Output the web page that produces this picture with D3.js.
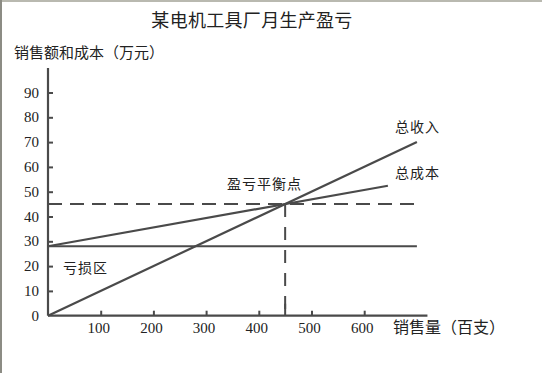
<!DOCTYPE html>
<html>
<head>
<meta charset="utf-8">
<script src="https://cdn.jsdelivr.net/npm/d3@7"></script>
<style>
  body { margin: 0; background: #fff; }
  svg text { fill: #222; }
  .cjk { font-family: "Noto Sans CJK SC", "Noto Sans", sans-serif; }
  .num { font-family: "Liberation Serif", "DejaVu Serif", serif; }
</style>
</head>
<body>
<div id="chart"></div>
<script>
var svgWidth = 542;
var svgHeight = 373;

// data (sales volume in hundreds, amount in 10k yuan)
var yTicks = [0, 10, 20, 30, 40, 50, 60, 70, 80, 90];
var xTicks = [100, 200, 300, 400, 500, 600];
var revenue = [[0, 0], [700, 70]];
var totalCost = [[0, 28], [645, 52.4]];
var fixedCost = [[0, 28], [700, 28]];
var breakEven = [450, 45];
var lineLabels = ["总收入", "总成本"];

var margin = { left: 48, top: 68, bottomY: 315.7 };

var xScale = d3.scaleLinear()
  .domain([0, 720])
  .range([margin.left, margin.left + 0.527 * 720]);

var yScale = d3.scaleLinear()
  .domain([0, 100])
  .range([margin.bottomY, margin.bottomY - 248]);

var svg = d3.select("#chart")
  .append("svg")
  .attr("width", svgWidth)
  .attr("height", svgHeight);

// frame
svg.append("rect").attr("x", 0).attr("y", 0).attr("width", svgWidth).attr("height", 2).attr("fill", "#b9b9b0");
svg.append("rect").attr("x", 0).attr("y", 0).attr("width", 2).attr("height", svgHeight).attr("fill", "#8c8c84");

var ink = "#4a4a4a";

// title
svg.append("text")
  .attr("class", "cjk")
  .attr("x", 252).attr("y", 27)
  .attr("text-anchor", "middle")
  .style("font-size", "18px")
  .style("letter-spacing", "0.3px")
  .text("某电机工具厂月生产盈亏");

svg.append("text")
  .attr("class", "cjk")
  .attr("x", 14).attr("y", 58)
  .style("font-size", "15px")
  .text("销售额和成本（万元）");

// y axis
var leftAxis = d3.axisRight(yScale)
  .tickValues(yTicks.filter(d => d > 0))
  .tickSize(5)
  .tickFormat("");

var gy = svg.append("g")
  .attr("transform", `translate(${margin.left}, 0)`)
  .call(leftAxis);
gy.select(".domain").remove();
gy.selectAll("line").attr("stroke", ink).attr("stroke-width", 2);

svg.append("line")
  .attr("x1", margin.left).attr("x2", margin.left)
  .attr("y1", margin.top).attr("y2", yScale(0))
  .attr("stroke", ink).attr("stroke-width", 2.2);

svg.selectAll(".ylab")
  .data(yTicks)
  .enter()
  .append("text")
  .attr("class", "num")
  .attr("x", 39)
  .attr("y", d => yScale(d) + 5)
  .attr("text-anchor", "end")
  .style("font-size", "15px")
  .text(d => d);

// x axis
var bottomAxis = d3.axisTop(xScale)
  .tickValues(xTicks)
  .tickSize(5)
  .tickFormat("");

var gx = svg.append("g")
  .attr("transform", `translate(0, ${yScale(0)})`)
  .call(bottomAxis);
gx.select(".domain").remove();
gx.selectAll("line").attr("stroke", ink).attr("stroke-width", 2);

svg.append("line")
  .attr("x1", margin.left).attr("x2", xScale(720))
  .attr("y1", yScale(0)).attr("y2", yScale(0))
  .attr("stroke", ink).attr("stroke-width", 2.2);

svg.selectAll(".xlab")
  .data(xTicks)
  .enter()
  .append("text")
  .attr("class", "num")
  .attr("x", d => xScale(d) - 2)
  .attr("y", 333)
  .attr("text-anchor", "middle")
  .style("font-size", "15px")
  .text(d => d);

svg.append("text")
  .attr("class", "cjk")
  .attr("x", 393).attr("y", 333)
  .style("font-size", "16px")
  .text("销售量（百支）");

// lines
var line = d3.line()
  .x(d => xScale(d[0]))
  .y(d => yScale(d[1]));

[revenue, totalCost, fixedCost].forEach(function(s) {
  svg.append("path")
    .datum(s)
    .attr("d", line)
    .attr("fill", "none")
    .attr("stroke", ink)
    .attr("stroke-width", 2.2);
});

// break-even dashes
svg.append("path")
  .datum([[0, breakEven[1]], [695, breakEven[1]]])
  .attr("d", line)
  .attr("fill", "none")
  .attr("stroke", ink)
  .attr("stroke-width", 2)
  .attr("stroke-dasharray", "14,8");

svg.append("path")
  .datum([[breakEven[0], breakEven[1]], [breakEven[0], 0]])
  .attr("d", line)
  .attr("fill", "none")
  .attr("stroke", ink)
  .attr("stroke-width", 2)
  .attr("stroke-dasharray", "13,10");

// tall tick at break-even
svg.append("line")
  .attr("x1", xScale(breakEven[0])).attr("x2", xScale(breakEven[0]))
  .attr("y1", yScale(0)).attr("y2", yScale(0) - 12)
  .attr("stroke", ink).attr("stroke-width", 2);

// labels
svg.append("text")
  .attr("class", "cjk")
  .attr("x", 395).attr("y", 132)
  .style("font-size", "14px")
  .style("letter-spacing", "1px")
  .text(lineLabels[0]);

svg.append("text")
  .attr("class", "cjk")
  .attr("x", 395).attr("y", 178)
  .style("font-size", "14px")
  .style("letter-spacing", "1px")
  .text(lineLabels[1]);

svg.append("text")
  .attr("class", "cjk")
  .attr("x", 227).attr("y", 189)
  .style("font-size", "14px")
  .style("letter-spacing", "1px")
  .text("盈亏平衡点");

svg.append("text")
  .attr("class", "cjk")
  .attr("x", 63).attr("y", 273)
  .style("font-size", "14px")
  .style("letter-spacing", "1px")
  .text("亏损区");
</script>
</body>
</html>
